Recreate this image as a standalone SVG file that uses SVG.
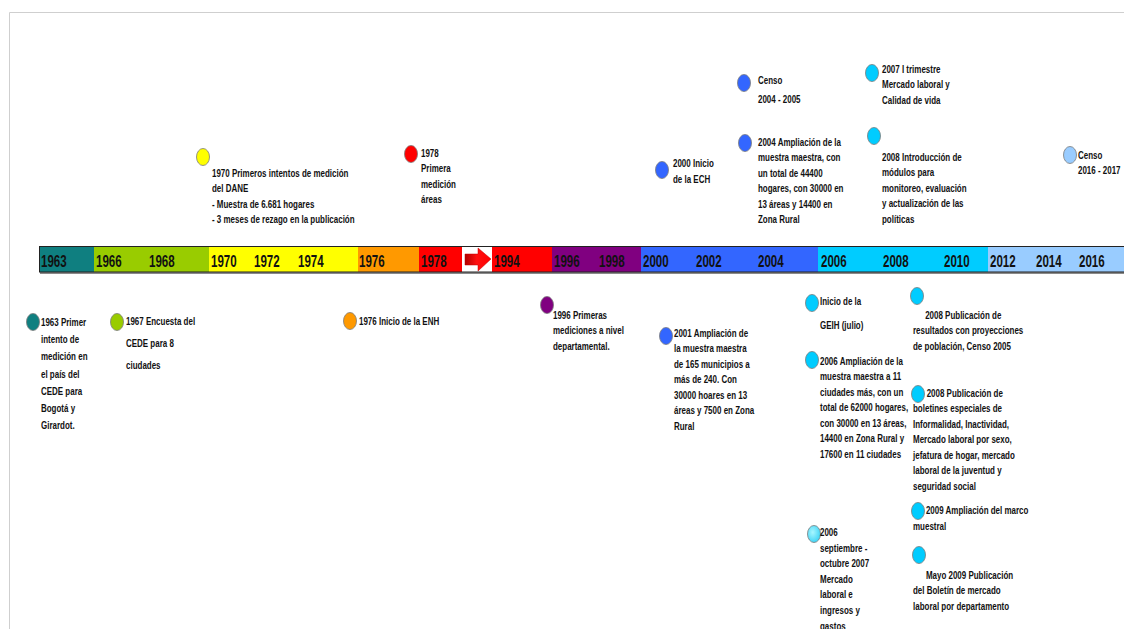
<svg xmlns="http://www.w3.org/2000/svg" width="1124" height="629" viewBox="0 0 1124 629">
<defs>
<style>
.t{font-family:"Liberation Sans",Arial,sans-serif;font-weight:bold;font-size:10.5px;fill:#111}
.y{font-family:"Liberation Sans",Arial,sans-serif;font-weight:bold;font-size:17px;fill:#111}
.d{stroke:#7a7a7a;stroke-width:0.8}
</style>
<linearGradient id="arrowG" x1="0" y1="0" x2="1" y2="0">
<stop offset="0" stop-color="#b00000"/><stop offset="0.45" stop-color="#ff1010"/><stop offset="1" stop-color="#ff0000"/>
</linearGradient>
<radialGradient id="lightDot" cx="0.4" cy="0.4" r="0.7">
<stop offset="0" stop-color="#a8f6ff"/><stop offset="1" stop-color="#33d0f5"/>
</radialGradient>
</defs>
<rect width="1124" height="629" fill="#fff"/>
<path d="M9.5 629 V12.5 H1124" fill="none" stroke="#cfcfcf" stroke-width="1"/>

<g id="timeline">
<rect x="40" y="248" width="1084" height="26" fill="#8a8a8a"/>
<rect x="39" y="246" width="55" height="26" fill="#0f7f80"/>
<rect x="94" y="246" width="115" height="26" fill="#99cc00"/>
<rect x="209" y="246" width="149" height="26" fill="#ffff00"/>
<rect x="358" y="246" width="61" height="26" fill="#ff9900"/>
<rect x="419" y="246" width="43" height="26" fill="#ff0000"/>
<rect x="462" y="246" width="30" height="26" fill="#ffffff"/>
<rect x="492" y="246" width="60" height="26" fill="#ff0000"/>
<rect x="552" y="246" width="89" height="26" fill="#800080"/>
<rect x="641" y="246" width="177" height="26" fill="#3366ff"/>
<rect x="818" y="246" width="170" height="26" fill="#00ccff"/>
<rect x="988" y="246" width="136" height="26" fill="#99ccff"/>
<rect x="39.5" y="246.5" width="1090" height="25.5" fill="none" stroke="#222" stroke-width="1"/>
<polygon points="465,254 478,254 478,248 491,259 478,271 478,265 465,265" fill="url(#arrowG)" stroke="#c00000" stroke-width="0.5"/>
<g class="y">
<text transform="translate(41,267) scale(0.68,1)">1963</text>
<text transform="translate(96,267) scale(0.68,1)">1966</text>
<text transform="translate(149,267) scale(0.68,1)">1968</text>
<text transform="translate(211,267) scale(0.68,1)">1970</text>
<text transform="translate(254,267) scale(0.68,1)">1972</text>
<text transform="translate(298,267) scale(0.68,1)">1974</text>
<text transform="translate(359,267) scale(0.68,1)">1976</text>
<text transform="translate(421,267) scale(0.68,1)">1978</text>
<text transform="translate(494,267) scale(0.68,1)">1994</text>
<text transform="translate(554,267) scale(0.68,1)">1996</text>
<text transform="translate(599,267) scale(0.68,1)">1998</text>
<text transform="translate(643,267) scale(0.68,1)">2000</text>
<text transform="translate(696,267) scale(0.68,1)">2002</text>
<text transform="translate(758,267) scale(0.68,1)">2004</text>
<text transform="translate(821,267) scale(0.68,1)">2006</text>
<text transform="translate(883,267) scale(0.68,1)">2008</text>
<text transform="translate(944,267) scale(0.68,1)">2010</text>
<text transform="translate(990,267) scale(0.68,1)">2012</text>
<text transform="translate(1036,267) scale(0.68,1)">2014</text>
<text transform="translate(1079,267) scale(0.68,1)">2016</text>
</g>
</g>

<g id="connectors"></g>

<g id="e1970">
<ellipse class="d" cx="203" cy="157" rx="6.5" ry="8.5" fill="#ffff00"/>
<text class="t" transform="translate(212,177) scale(0.76,1)"><tspan x="0" y="0">1970 Primeros intentos de medición</tspan><tspan x="0" y="15.3">del DANE</tspan><tspan x="0" y="30.6">- Muestra de 6.681 hogares</tspan><tspan x="0" y="45.9">- 3 meses de rezago en la publicación</tspan></text>
</g>
<g id="e1978">
<ellipse class="d" cx="411" cy="154" rx="6.5" ry="8.5" fill="#ff0000"/>
<text class="t" transform="translate(421,157) scale(0.76,1)"><tspan x="0" y="0">1978</tspan><tspan x="0" y="15.5">Primera</tspan><tspan x="0" y="31">medición</tspan><tspan x="0" y="46.5">áreas</tspan></text>
</g>
<g id="e2000">
<ellipse class="d" cx="662" cy="170" rx="6.5" ry="8.5" fill="#3366ff"/>
<text class="t" transform="translate(673,167) scale(0.76,1)"><tspan x="0" y="0">2000 Inicio</tspan><tspan x="0" y="16">de la ECH</tspan></text>
</g>
<g id="censo2004">
<ellipse class="d" cx="744" cy="83" rx="6.5" ry="8.5" fill="#3366ff"/>
<text class="t" transform="translate(758,84) scale(0.76,1)"><tspan x="0" y="0">Censo</tspan><tspan x="0" y="19">2004 - 2005</tspan></text>
</g>
<g id="e2004">
<ellipse class="d" cx="745" cy="143" rx="6.5" ry="8.5" fill="#3366ff"/>
<text class="t" transform="translate(758,146) scale(0.76,1)"><tspan x="0" y="0">2004 Ampliación de la</tspan><tspan x="0" y="15.4">muestra maestra, con</tspan><tspan x="0" y="30.8">un total de 44400</tspan><tspan x="0" y="46.2">hogares, con 30000 en</tspan><tspan x="0" y="61.6">13 áreas y 14400 en</tspan><tspan x="0" y="77">Zona Rural</tspan></text>
</g>
<g id="e2007">
<ellipse class="d" cx="872" cy="73" rx="6.5" ry="8.5" fill="#00ccff"/>
<text class="t" transform="translate(882,73) scale(0.76,1)"><tspan x="0" y="0">2007 I trimestre</tspan><tspan x="0" y="15.5">Mercado laboral y</tspan><tspan x="0" y="31">Calidad de vida</tspan></text>
</g>
<g id="e2008intro">
<ellipse class="d" cx="874" cy="136" rx="6.5" ry="8.5" fill="#00ccff"/>
<text class="t" transform="translate(882,161) scale(0.76,1)"><tspan x="0" y="0">2008 Introducción de</tspan><tspan x="0" y="15.5">módulos para</tspan><tspan x="0" y="31">monitoreo, evaluación</tspan><tspan x="0" y="46.5">y actualización de las</tspan><tspan x="0" y="62">políticas</tspan></text>
</g>
<g id="censo2016">
<ellipse class="d" cx="1070" cy="155" rx="6.5" ry="8.5" fill="#99ccff"/>
<text class="t" transform="translate(1078,159) scale(0.76,1)"><tspan x="0" y="0">Censo</tspan><tspan x="0" y="15.5">2016 - 2017</tspan></text>
</g>

<g id="e1963">
<ellipse class="d" cx="33" cy="322" rx="6.5" ry="8.5" fill="#0f7f80"/>
<text class="t" transform="translate(41,326) scale(0.76,1)"><tspan x="0" y="0">1963 Primer</tspan><tspan x="0" y="17.2">intento de</tspan><tspan x="0" y="34.4">medición en</tspan><tspan x="0" y="51.6">el país del</tspan><tspan x="0" y="68.8">CEDE para</tspan><tspan x="0" y="86">Bogotá y</tspan><tspan x="0" y="103.2">Girardot.</tspan></text>
</g>
<g id="e1967">
<ellipse class="d" cx="117" cy="322" rx="6.5" ry="8.5" fill="#99cc00"/>
<text class="t" transform="translate(126,325) scale(0.76,1)"><tspan x="0" y="0">1967 Encuesta del</tspan><tspan x="0" y="22">CEDE para 8</tspan><tspan x="0" y="44">ciudades</tspan></text>
</g>
<g id="e1976">
<ellipse class="d" cx="350" cy="321" rx="6.5" ry="8.5" fill="#ff9900"/>
<text class="t" transform="translate(359,325) scale(0.76,1)">1976 Inicio de la ENH</text>
</g>
<g id="e1996">
<ellipse class="d" cx="547" cy="305" rx="6.5" ry="8.5" fill="#800080"/>
<text class="t" transform="translate(553,319) scale(0.76,1)"><tspan x="0" y="0">1996 Primeras</tspan><tspan x="0" y="15.5">mediciones a nivel</tspan><tspan x="0" y="31">departamental.</tspan></text>
</g>
<g id="e2001">
<ellipse class="d" cx="666" cy="336" rx="6.5" ry="8.5" fill="#3366ff"/>
<text class="t" transform="translate(674,337) scale(0.76,1)"><tspan x="0" y="0">2001 Ampliación de</tspan><tspan x="0" y="15.5">la muestra maestra</tspan><tspan x="0" y="31">de 165 municipios a</tspan><tspan x="0" y="46.5">más de 240. Con</tspan><tspan x="0" y="62">30000 hoares en 13</tspan><tspan x="0" y="77.5">áreas y 7500 en Zona</tspan><tspan x="0" y="93">Rural</tspan></text>
</g>
<g id="geih">
<ellipse class="d" cx="812" cy="303" rx="6.5" ry="8.5" fill="#00ccff"/>
<text class="t" transform="translate(820,305) scale(0.76,1)"><tspan x="0" y="0">Inicio de la</tspan><tspan x="0" y="24">GEIH (julio)</tspan></text>
</g>
<g id="e2006ampl">
<ellipse class="d" cx="812" cy="360" rx="6.5" ry="8.5" fill="#00ccff"/>
<text class="t" transform="translate(820,365) scale(0.76,1)"><tspan x="0" y="0">2006 Ampliación de la</tspan><tspan x="0" y="15.5">muestra maestra a 11</tspan><tspan x="0" y="31">ciudades más, con un</tspan><tspan x="0" y="46.5">total de 62000 hogares,</tspan><tspan x="0" y="62">con 30000 en 13 áreas,</tspan><tspan x="0" y="77.5">14400 en Zona Rural y</tspan><tspan x="0" y="93">17600 en 11 ciudades</tspan></text>
</g>
<g id="e2008res">
<ellipse class="d" cx="917" cy="296" rx="6.5" ry="8.5" fill="#00ccff"/>
<text class="t" transform="translate(913,319) scale(0.76,1)"><tspan x="16" y="0">2008 Publicación de</tspan><tspan x="0" y="15.5">resultados con proyecciones</tspan><tspan x="0" y="31">de población, Censo 2005</tspan></text>
</g>
<g id="e2008bol">
<ellipse class="d" cx="918" cy="394" rx="6.5" ry="8.5" fill="#00ccff"/>
<text class="t" transform="translate(913,397) scale(0.76,1)"><tspan x="18" y="0">2008 Publicación de</tspan><tspan x="0" y="15.5">boletines especiales de</tspan><tspan x="0" y="31">Informalidad, Inactividad,</tspan><tspan x="0" y="46.5">Mercado laboral por sexo,</tspan><tspan x="0" y="62">jefatura de hogar, mercado</tspan><tspan x="0" y="77.5">laboral de la juventud y</tspan><tspan x="0" y="93">seguridad social</tspan></text>
</g>
<g id="e2009">
<ellipse class="d" cx="918" cy="511" rx="6.5" ry="8.5" fill="#00ccff"/>
<text class="t" transform="translate(913,514) scale(0.76,1)"><tspan x="17" y="0">2009 Ampliación del marco</tspan><tspan x="0" y="16">muestral</tspan></text>
</g>
<g id="mayo2009">
<ellipse class="d" cx="919" cy="555" rx="6.5" ry="8.5" fill="#00ccff"/>
<text class="t" transform="translate(913,579) scale(0.76,1)"><tspan x="17" y="0">Mayo 2009 Publicación</tspan><tspan x="0" y="15.5">del Boletín de mercado</tspan><tspan x="0" y="31">laboral por departamento</tspan></text>
</g>
<g id="e2006sep">
<ellipse class="d" cx="814" cy="534" rx="6.5" ry="8.5" fill="url(#lightDot)"/>
<text class="t" transform="translate(820,536) scale(0.76,1)"><tspan x="0" y="0">2006</tspan><tspan x="0" y="15.6">septiembre -</tspan><tspan x="0" y="31.2">octubre 2007</tspan><tspan x="0" y="46.8">Mercado</tspan><tspan x="0" y="62.4">laboral e</tspan><tspan x="0" y="78">ingresos y</tspan><tspan x="0" y="93.6">gastos</tspan></text>
</g>
</svg>
